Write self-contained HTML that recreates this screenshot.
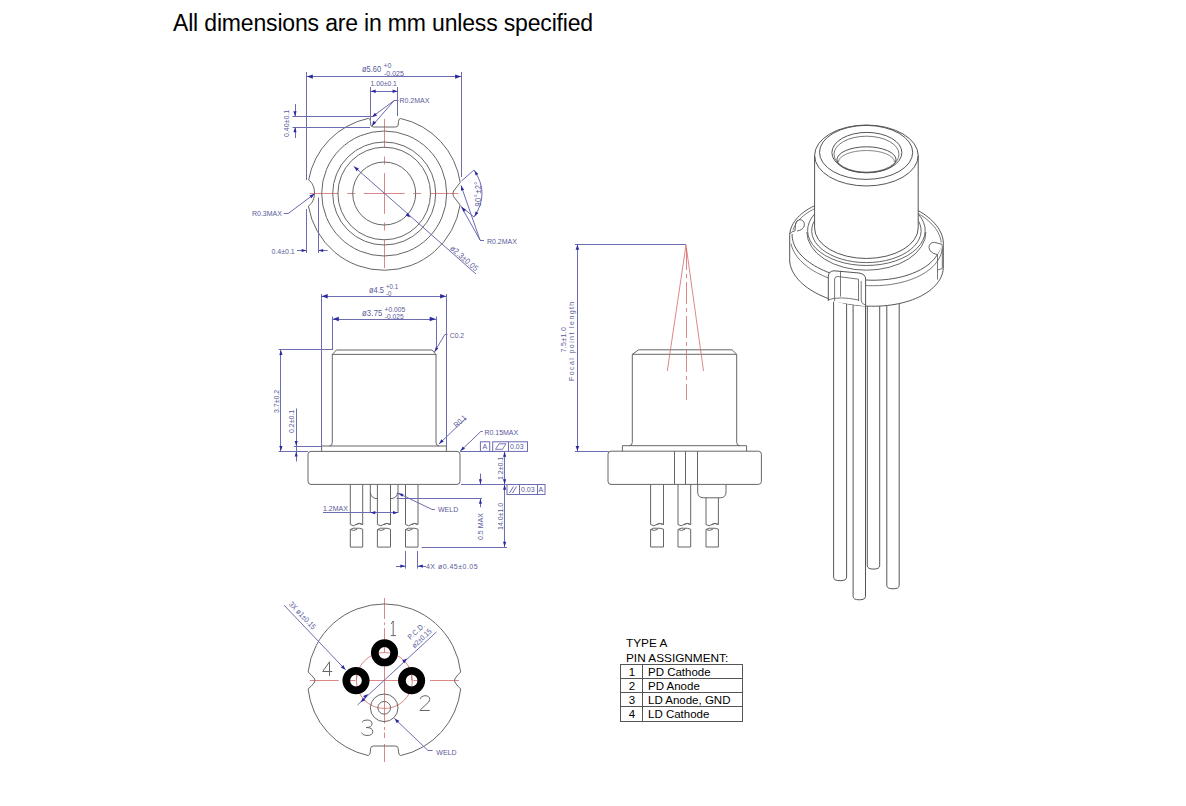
<!DOCTYPE html>
<html><head><meta charset="utf-8"><style>
html,body{margin:0;padding:0;background:#fff;}
body{width:1186px;height:806px;position:relative;overflow:hidden;font-family:"Liberation Sans",sans-serif;}
svg text{font-family:"Liberation Sans",sans-serif;}
#title{position:absolute;left:173px;top:10px;font-size:23px;letter-spacing:-0.17px;color:#000;white-space:nowrap;}
</style></head><body>
<div id="title">All dimensions are in mm unless specified</div>

<div style="position:absolute;left:626px;top:636px;font-size:11.8px;line-height:14.5px;color:#000">TYPE A<br>PIN ASSIGNMENT:</div>

<svg width="1186" height="806" viewBox="0 0 1186 806" style="position:absolute;left:0;top:0">
<line x1="363.8" y1="193.5" x2="404.59999999999997" y2="193.5" stroke="#d46a6a" stroke-width="0.8" />
<line x1="413.2" y1="193.5" x2="421.2" y2="193.5" stroke="#d46a6a" stroke-width="0.8" />
<line x1="347.2" y1="193.5" x2="355.2" y2="193.5" stroke="#d46a6a" stroke-width="0.8" />
<line x1="429.79999999999995" y1="193.5" x2="458.4" y2="193.5" stroke="#d46a6a" stroke-width="0.8" />
<line x1="309.6" y1="193.5" x2="338.6" y2="193.5" stroke="#d46a6a" stroke-width="0.8" />
<line x1="384.5" y1="173.1" x2="384.5" y2="213.9" stroke="#d46a6a" stroke-width="0.8" />
<line x1="384.5" y1="222.5" x2="384.5" y2="230.5" stroke="#d46a6a" stroke-width="0.8" />
<line x1="384.5" y1="156.5" x2="384.5" y2="164.5" stroke="#d46a6a" stroke-width="0.8" />
<line x1="384.5" y1="239.1" x2="384.5" y2="268.1" stroke="#d46a6a" stroke-width="0.8" />
<line x1="384.5" y1="118.9" x2="384.5" y2="147.9" stroke="#d46a6a" stroke-width="0.8" />
<circle cx="384.2" cy="193.5" r="31.5" stroke="#666" stroke-width="1" fill="none" />
<circle cx="384.2" cy="193.5" r="46.3" stroke="#666" stroke-width="1" fill="none" />
<circle cx="384.2" cy="193.5" r="51.5" stroke="#666" stroke-width="1" fill="none" />
<circle cx="384.2" cy="193.5" r="62.5" stroke="#666" stroke-width="1" fill="none" />
<path d="M400.7,118.5 A76.8,76.8 0 0 1 460.2,182.5 L453.6,191 Q452,193.7 453.6,196.5 L460.1,205.0 A76.8,76.8 0 0 1 308.4,206.0 C316.5,201 316.5,185 308.6,180.0 A76.8,76.8 0 0 1 368.3,118.4 Q370.4,118.4 370.5,121.5 L370.8,125 Q371,127 373.5,127 L395.5,127 Q398,127 398.2,125 L398.5,121.5 Q398.6,118.4 400.7,118.5 Z" stroke="#666" stroke-width="1" fill="none" />
<line x1="306.5" y1="72" x2="306.5" y2="180" stroke="#6c6cb0" stroke-width="1" />
<line x1="461.5" y1="72" x2="461.5" y2="177" stroke="#6c6cb0" stroke-width="1" />
<line x1="306.5" y1="76.5" x2="461.4" y2="76.5" stroke="#6c6cb0" stroke-width="1" />
<path d="M306.8,76.6 L312.8,74.4 L312.8,78.8 Z" fill="#2a2aa0" stroke="none"/>
<path d="M461.1,76.6 L455.1,78.8 L455.1,74.4 Z" fill="#2a2aa0" stroke="none"/>
<text x="0" y="0" font-size="8.57" fill="#5a5a9a" text-anchor="start" transform="translate(362 71.5) scale(0.875 1)" >ø5.60</text>
<text x="0" y="0" font-size="8.00" fill="#5a5a9a" text-anchor="start" transform="translate(383.5 68) scale(0.875 1)" >+0</text>
<text x="0" y="0" font-size="8.00" fill="#5a5a9a" text-anchor="start" transform="translate(384 75.5) scale(0.875 1)" >-0.025</text>
<line x1="370.5" y1="87" x2="370.5" y2="120" stroke="#6c6cb0" stroke-width="1" />
<line x1="397.5" y1="87" x2="397.5" y2="116" stroke="#6c6cb0" stroke-width="1" />
<line x1="370.4" y1="91.5" x2="397.9" y2="91.5" stroke="#6c6cb0" stroke-width="1" />
<path d="M370.7,91.2 L375.7,89.4 L375.7,93.0 Z" fill="#2a2aa0" stroke="none"/>
<path d="M397.6,91.2 L392.6,93.0 L392.6,89.4 Z" fill="#2a2aa0" stroke="none"/>
<text x="0" y="0" font-size="7.77" fill="#5a5a9a" text-anchor="start" transform="translate(370.5 86) scale(0.875 1)" >1.00±0.1</text>
<line x1="394.2" y1="100.5" x2="398.5" y2="100.5" stroke="#6c6cb0" stroke-width="1" />
<line x1="394.2" y1="100.5" x2="372" y2="117" stroke="#6c6cb0" stroke-width="1" />
<line x1="394.2" y1="100.5" x2="372" y2="126" stroke="#6c6cb0" stroke-width="1" />
<path d="M372.0,117.2 L374.9,112.8 L377.1,115.6 Z" fill="#2a2aa0" stroke="none"/>
<path d="M372.0,126.0 L373.2,120.8 L376.2,122.8 Z" fill="#2a2aa0" stroke="none"/>
<text x="0" y="0" font-size="8.00" fill="#5a5a9a" text-anchor="start" transform="translate(399.5 103) scale(0.875 1)" >R0.2MAX</text>
<line x1="292.5" y1="116.5" x2="372" y2="116.5" stroke="#6c6cb0" stroke-width="1" />
<line x1="292.5" y1="127.5" x2="370" y2="127.5" stroke="#6c6cb0" stroke-width="1" />
<line x1="295.5" y1="104" x2="295.5" y2="116.5" stroke="#6c6cb0" stroke-width="1" />
<path d="M295.0,116.3 L293.4,111.3 L296.6,111.3 Z" fill="#2a2aa0" stroke="none"/>
<line x1="295.5" y1="127.1" x2="295.5" y2="138" stroke="#6c6cb0" stroke-width="1" />
<path d="M295.0,127.3 L296.6,132.3 L293.4,132.3 Z" fill="#2a2aa0" stroke="none"/>
<text x="0" y="0" font-size="8.00" fill="#5a5a9a" text-anchor="start" transform="translate(288.5 137) rotate(-90) scale(0.875 1)" >0.40±0.1</text>
<line x1="461.5" y1="181" x2="474" y2="170" stroke="#6c6cb0" stroke-width="1" />
<line x1="460.5" y1="206" x2="474" y2="217" stroke="#6c6cb0" stroke-width="1" />
<path d="M474,170 Q490,193.5 474,217" stroke="#6c6cb0" stroke-width="1" fill="none" />
<path d="M474.5,170.5 L478.4,174.0 L475.6,175.6 Z" fill="#2a2aa0" stroke="none"/>
<path d="M474.5,216.5 L475.6,211.4 L478.4,213.0 Z" fill="#2a2aa0" stroke="none"/>
<text x="0" y="0" font-size="8.57" fill="#5a5a9a" text-anchor="start" transform="translate(481 206.5) rotate(-90) scale(0.875 1)" letter-spacing="0.5">90°±2°</text>
<line x1="480" y1="240" x2="461" y2="185.5" stroke="#6c6cb0" stroke-width="1" />
<line x1="480" y1="240" x2="461.5" y2="207" stroke="#6c6cb0" stroke-width="1" />
<line x1="480" y1="240.5" x2="484" y2="240.5" stroke="#6c6cb0" stroke-width="1" />
<path d="M461.0,185.5 L464.1,189.7 L461.1,190.7 Z" fill="#2a2aa0" stroke="none"/>
<path d="M461.5,207.0 L465.9,209.8 L463.5,211.9 Z" fill="#2a2aa0" stroke="none"/>
<text x="0" y="0" font-size="8.00" fill="#5a5a9a" text-anchor="start" transform="translate(487 243.5) scale(0.875 1)" >R0.2MAX</text>
<line x1="283.7" y1="213.5" x2="288" y2="213.5" stroke="#6c6cb0" stroke-width="1" />
<line x1="288" y1="213.7" x2="314.5" y2="193.8" stroke="#6c6cb0" stroke-width="1" />
<path d="M314.5,193.8 L311.6,198.2 L309.4,195.4 Z" fill="#2a2aa0" stroke="none"/>
<text x="0" y="0" font-size="8.00" fill="#5a5a9a" text-anchor="start" transform="translate(252 216) scale(0.875 1)" >R0.3MAX</text>
<line x1="306.5" y1="209" x2="306.5" y2="253" stroke="#6c6cb0" stroke-width="1" />
<line x1="318.5" y1="197.5" x2="318.5" y2="253" stroke="#6c6cb0" stroke-width="1" />
<line x1="297" y1="250.5" x2="306.8" y2="250.5" stroke="#6c6cb0" stroke-width="1" />
<path d="M306.6,250.5 L301.6,252.1 L301.6,248.9 Z" fill="#2a2aa0" stroke="none"/>
<line x1="318" y1="250.5" x2="327.5" y2="250.5" stroke="#6c6cb0" stroke-width="1" />
<path d="M318.2,250.5 L323.2,248.9 L323.2,252.1 Z" fill="#2a2aa0" stroke="none"/>
<text x="0" y="0" font-size="8.00" fill="#5a5a9a" text-anchor="start" transform="translate(271.5 253.5) scale(0.875 1)" >0.4±0.1</text>
<line x1="353.7" y1="166.2" x2="476" y2="274" stroke="#6c6cb0" stroke-width="1" />
<path d="M354.0,166.5 L358.9,168.5 L356.6,171.2 Z" fill="#2a2aa0" stroke="none"/>
<path d="M410.4,217.4 L405.5,215.4 L407.8,212.7 Z" fill="#2a2aa0" stroke="none"/>
<text x="0" y="0" font-size="8.23" fill="#5a5a9a" text-anchor="start" transform="translate(449.5 249.0) rotate(41.4) scale(0.875 1)" letter-spacing="0.3">ø2.3±0.05</text>
<path d="M336.5,350 L432,350 L436,354.4 L436,442.5 Q436,445.7 439,446 M332.3,354.4 L336.5,350 M332.3,354.4 L436,354.4 M332.3,354.4 L332.3,442.5 Q332.3,445.7 329.5,446" stroke="#666" stroke-width="1" fill="none" />
<path d="M321.6,446 L446.4,446 L446.4,451.4 M321.6,446 L321.6,451.4" stroke="#666" stroke-width="1" fill="none" />
<path d="M311,451.4 L457,451.4 Q460,451.4 460,454.4 L460,481.4 Q460,484.4 457,484.4 L311,484.4 Q308,484.4 308,481.4 L308,454.4 Q308,451.4 311,451.4 Z" stroke="#666" stroke-width="1" fill="none" />
<path d="M350.3,484.4 L350.3,524.5 L353.4,525.8 Q356.5,524.0 359.476,523.4 L362.7,524.5 L362.7,484.4 M355.88,524.7 Q358.98,522.3 362.7,524.5 M350.3,547.1 L350.3,529.5 L353.4,528.2 L359.476,528.3 L362.7,529.2 L362.7,547.1 Z M350.3,529.5 Q354.02,531.5 357.12,529.3" stroke="#666" stroke-width="1" fill="none" />
<path d="M377.4,484.4 L377.4,524.5 L380.67499999999995,525.8 Q383.95,524.0 387.094,523.4 L390.5,524.5 L390.5,484.4 M383.29499999999996,524.7 Q386.57,522.3 390.5,524.5 M377.4,547.1 L377.4,529.5 L380.67499999999995,528.2 L387.094,528.3 L390.5,529.2 L390.5,547.1 Z M377.4,529.5 Q381.33,531.5 384.605,529.3" stroke="#666" stroke-width="1" fill="none" />
<path d="M405.5,484.4 L405.5,524.5 L408.625,525.8 Q411.75,524.0 414.75,523.4 L418,524.5 L418,484.4 M411.125,524.7 Q414.25,522.3 418,524.5 M405.5,547.1 L405.5,529.5 L408.625,528.2 L414.75,528.3 L418,529.2 L418,547.1 Z M405.5,529.5 Q409.25,531.5 412.375,529.3" stroke="#666" stroke-width="1" fill="none" />
<path d="M370.3,484.4 L370.3,513 M398,484.4 L398,513 M370.3,492.5 Q371,498.5 377.4,498.7 M390.5,498.7 Q397,498.5 397.6,492.5" stroke="#666" stroke-width="1" fill="none" />
<line x1="321.5" y1="294" x2="321.5" y2="446" stroke="#6c6cb0" stroke-width="1" />
<line x1="446.5" y1="294" x2="446.5" y2="446" stroke="#6c6cb0" stroke-width="1" />
<line x1="321.4" y1="296.5" x2="446.4" y2="296.5" stroke="#6c6cb0" stroke-width="1" />
<path d="M321.7,296.3 L327.7,294.1 L327.7,298.5 Z" fill="#2a2aa0" stroke="none"/>
<path d="M446.1,296.3 L440.1,298.5 L440.1,294.1 Z" fill="#2a2aa0" stroke="none"/>
<text x="0" y="0" font-size="8.57" fill="#5a5a9a" text-anchor="start" transform="translate(369 293) scale(0.875 1)" >ø4.5</text>
<text x="0" y="0" font-size="7.09" fill="#5a5a9a" text-anchor="start" transform="translate(386 289) scale(0.875 1)" >+0.1</text>
<text x="0" y="0" font-size="7.09" fill="#5a5a9a" text-anchor="start" transform="translate(386 295.5) scale(0.875 1)" >-0</text>
<line x1="332.5" y1="316.5" x2="332.5" y2="350" stroke="#6c6cb0" stroke-width="1" />
<line x1="436.5" y1="316.5" x2="436.5" y2="350" stroke="#6c6cb0" stroke-width="1" />
<line x1="332.5" y1="319.5" x2="436" y2="319.5" stroke="#6c6cb0" stroke-width="1" />
<path d="M332.8,319.0 L338.8,316.8 L338.8,321.2 Z" fill="#2a2aa0" stroke="none"/>
<path d="M435.7,319.0 L429.7,321.2 L429.7,316.8 Z" fill="#2a2aa0" stroke="none"/>
<text x="0" y="0" font-size="8.80" fill="#5a5a9a" text-anchor="start" transform="translate(362 316) scale(0.875 1)" letter-spacing="0.2">ø3.75</text>
<text x="0" y="0" font-size="7.66" fill="#5a5a9a" text-anchor="start" transform="translate(384.5 312) scale(0.875 1)" >+0.005</text>
<text x="0" y="0" font-size="7.66" fill="#5a5a9a" text-anchor="start" transform="translate(384.8 319) scale(0.875 1)" >-0.025</text>
<line x1="434.5" y1="352" x2="444.6" y2="334.9" stroke="#6c6cb0" stroke-width="1" />
<line x1="444.6" y1="334.5" x2="447.5" y2="334.5" stroke="#6c6cb0" stroke-width="1" />
<path d="M434.5,352.0 L435.8,346.9 L438.3,348.5 Z" fill="#2a2aa0" stroke="none"/>
<text x="0" y="0" font-size="7.77" fill="#5a5a9a" text-anchor="start" transform="translate(449.8 337.6) scale(0.875 1)" >C0.2</text>
<line x1="278.5" y1="349.5" x2="332" y2="349.5" stroke="#6c6cb0" stroke-width="1" />
<line x1="278.5" y1="451.5" x2="308" y2="451.5" stroke="#6c6cb0" stroke-width="1" />
<line x1="280.5" y1="349.8" x2="280.5" y2="451.4" stroke="#6c6cb0" stroke-width="1" />
<path d="M280.9,350.1 L282.5,355.1 L279.3,355.1 Z" fill="#2a2aa0" stroke="none"/>
<path d="M280.9,451.1 L279.3,446.1 L282.5,446.1 Z" fill="#2a2aa0" stroke="none"/>
<text x="0" y="0" font-size="8.00" fill="#5a5a9a" text-anchor="start" transform="translate(278.5 413) rotate(-90) scale(0.875 1)" >3.7±0.2</text>
<line x1="293.8" y1="446.5" x2="321.4" y2="446.5" stroke="#6c6cb0" stroke-width="1" />
<line x1="296.5" y1="408.5" x2="296.5" y2="461.5" stroke="#6c6cb0" stroke-width="1" />
<path d="M296.2,446.0 L294.7,441.0 L297.7,441.0 Z" fill="#2a2aa0" stroke="none"/>
<path d="M296.2,451.6 L297.7,456.6 L294.7,456.6 Z" fill="#2a2aa0" stroke="none"/>
<text x="0" y="0" font-size="8.00" fill="#5a5a9a" text-anchor="start" transform="translate(294.3 433) rotate(-90) scale(0.875 1)" >0.2±0.1</text>
<line x1="439" y1="444" x2="466" y2="418" stroke="#6c6cb0" stroke-width="1" />
<path d="M439.0,444.0 L441.4,439.3 L443.7,441.6 Z" fill="#2a2aa0" stroke="none"/>
<text x="0" y="0" font-size="7.77" fill="#5a5a9a" text-anchor="start" transform="translate(456.5 428) rotate(-42) scale(0.875 1)" >R0.1</text>
<line x1="460" y1="451.4" x2="480.8" y2="431.5" stroke="#6c6cb0" stroke-width="1" />
<line x1="480.8" y1="431.5" x2="482.8" y2="431.5" stroke="#6c6cb0" stroke-width="1" />
<path d="M460.3,451.1 L462.8,446.5 L465.0,448.8 Z" fill="#2a2aa0" stroke="none"/>
<text x="0" y="0" font-size="8.00" fill="#5a5a9a" text-anchor="start" transform="translate(484.4 434.5) scale(0.875 1)" >R0.15MAX</text>
<rect x="480.4" y="441.8" width="9.3" height="9.6" fill="none" stroke="#6c6cb0" stroke-width="1"/>
<text x="0" y="0" font-size="8.00" fill="#5a5a9a" text-anchor="start" transform="translate(482.5 449.3) scale(0.875 1)" >A</text>
<rect x="492.7" y="441.8" width="34.8" height="9.6" fill="none" stroke="#6c6cb0" stroke-width="1"/>
<line x1="508.5" y1="441.8" x2="508.5" y2="451.4" stroke="#6c6cb0" stroke-width="1" />
<path d="M495.5,449.3 L499,443.8 L506,443.8 L502.5,449.3 Z" stroke="#6c6cb0" stroke-width="0.9" fill="none" />
<text x="0" y="0" font-size="8.00" fill="#5a5a9a" text-anchor="start" transform="translate(510 449.3) scale(0.875 1)" >0.03</text>
<line x1="460" y1="451.5" x2="503.6" y2="451.5" stroke="#6c6cb0" stroke-width="1" />
<line x1="504.5" y1="451.6" x2="504.5" y2="484.4" stroke="#6c6cb0" stroke-width="1" />
<path d="M504.6,451.8 L506.2,456.8 L503.0,456.8 Z" fill="#2a2aa0" stroke="none"/>
<path d="M504.6,484.2 L503.0,479.2 L506.2,479.2 Z" fill="#2a2aa0" stroke="none"/>
<text x="0" y="0" font-size="8.00" fill="#5a5a9a" text-anchor="start" transform="translate(502.5 480) rotate(-90) scale(0.875 1)" >1.2±0.1</text>
<line x1="461" y1="484.5" x2="507.6" y2="484.5" stroke="#6c6cb0" stroke-width="1" />
<rect x="507" y="484.5" width="38" height="10" fill="none" stroke="#6c6cb0" stroke-width="1"/>
<line x1="519.5" y1="484.5" x2="519.5" y2="494.5" stroke="#6c6cb0" stroke-width="1" />
<line x1="537.5" y1="484.5" x2="537.5" y2="494.5" stroke="#6c6cb0" stroke-width="1" />
<line x1="509.5" y1="493" x2="513.5" y2="486.5" stroke="#6c6cb0" stroke-width="1" />
<line x1="512.5" y1="493" x2="516.5" y2="486.5" stroke="#6c6cb0" stroke-width="1" />
<text x="0" y="0" font-size="8.00" fill="#5a5a9a" text-anchor="start" transform="translate(521 492.3) scale(0.875 1)" >0.03</text>
<text x="0" y="0" font-size="8.00" fill="#5a5a9a" text-anchor="start" transform="translate(538.6 492.3) scale(0.875 1)" >A</text>
<line x1="504.5" y1="484.6" x2="504.5" y2="547" stroke="#6c6cb0" stroke-width="1" />
<path d="M504.6,484.8 L506.2,489.8 L503.0,489.8 Z" fill="#2a2aa0" stroke="none"/>
<path d="M504.6,546.8 L503.0,541.8 L506.2,541.8 Z" fill="#2a2aa0" stroke="none"/>
<text x="0" y="0" font-size="8.00" fill="#5a5a9a" text-anchor="start" transform="translate(502.5 530) rotate(-90) scale(0.875 1)" >14.0±1.0</text>
<line x1="421.7" y1="547.5" x2="507" y2="547.5" stroke="#6c6cb0" stroke-width="1" />
<line x1="480.5" y1="473.6" x2="480.5" y2="484.4" stroke="#6c6cb0" stroke-width="1" />
<path d="M480.4,484.2 L478.9,479.2 L481.9,479.2 Z" fill="#2a2aa0" stroke="none"/>
<line x1="396.7" y1="498.5" x2="482" y2="498.5" stroke="#6c6cb0" stroke-width="1" />
<line x1="480.5" y1="498.6" x2="480.5" y2="507.3" stroke="#6c6cb0" stroke-width="1" />
<path d="M480.4,498.8 L481.9,503.8 L478.9,503.8 Z" fill="#2a2aa0" stroke="none"/>
<text x="0" y="0" font-size="8.00" fill="#5a5a9a" text-anchor="start" transform="translate(482.8 540) rotate(-90) scale(0.875 1)" >0.5 MAX</text>
<line x1="323" y1="512.5" x2="398" y2="512.5" stroke="#6c6cb0" stroke-width="1" />
<path d="M370.3,512.7 L375.3,511.1 L375.3,514.3 Z" fill="#2a2aa0" stroke="none"/>
<path d="M398.0,512.7 L393.0,514.3 L393.0,511.1 Z" fill="#2a2aa0" stroke="none"/>
<text x="0" y="0" font-size="8.00" fill="#5a5a9a" text-anchor="start" transform="translate(323 511) scale(0.875 1)" >1.2MAX</text>
<line x1="398" y1="493.1" x2="431.7" y2="509.3" stroke="#6c6cb0" stroke-width="1" />
<line x1="431.7" y1="509.5" x2="434.8" y2="509.5" stroke="#6c6cb0" stroke-width="1" />
<path d="M398.3,493.2 L403.5,494.0 L402.1,496.8 Z" fill="#2a2aa0" stroke="none"/>
<text x="0" y="0" font-size="8.00" fill="#5a5a9a" text-anchor="start" transform="translate(438 512) scale(0.875 1)" >WELD</text>
<line x1="405.5" y1="551" x2="405.5" y2="568.6" stroke="#6c6cb0" stroke-width="1" />
<line x1="417.5" y1="551" x2="417.5" y2="568.6" stroke="#6c6cb0" stroke-width="1" />
<line x1="396" y1="566.5" x2="405.5" y2="566.5" stroke="#6c6cb0" stroke-width="1" />
<path d="M405.3,566.1 L400.3,567.7 L400.3,564.5 Z" fill="#2a2aa0" stroke="none"/>
<line x1="417.6" y1="566.5" x2="426" y2="566.5" stroke="#6c6cb0" stroke-width="1" />
<path d="M417.8,566.1 L422.8,564.5 L422.8,567.7 Z" fill="#2a2aa0" stroke="none"/>
<text x="0" y="0" font-size="8.00" fill="#5a5a9a" text-anchor="start" transform="translate(426 568.7) scale(0.875 1)" letter-spacing="0.55">4X  ø0.45±0.05</text>
<line x1="364.0" y1="680.5" x2="404.79999999999995" y2="680.5" stroke="#d46a6a" stroke-width="0.8" />
<line x1="413.4" y1="680.5" x2="421.4" y2="680.5" stroke="#d46a6a" stroke-width="0.8" />
<line x1="347.4" y1="680.5" x2="355.4" y2="680.5" stroke="#d46a6a" stroke-width="0.8" />
<line x1="430.0" y1="680.5" x2="459.0" y2="680.5" stroke="#d46a6a" stroke-width="0.8" />
<line x1="309.79999999999995" y1="680.5" x2="338.79999999999995" y2="680.5" stroke="#d46a6a" stroke-width="0.8" />
<line x1="384.5" y1="598" x2="384.5" y2="619" stroke="#d46a6a" stroke-width="0.8" />
<line x1="384.5" y1="622.5" x2="384.5" y2="625" stroke="#d46a6a" stroke-width="0.8" />
<line x1="384.5" y1="628" x2="384.5" y2="640" stroke="#d46a6a" stroke-width="0.8" />
<line x1="384.5" y1="666" x2="384.5" y2="723.6" stroke="#d46a6a" stroke-width="0.8" />
<line x1="384.5" y1="727" x2="384.5" y2="730" stroke="#d46a6a" stroke-width="0.8" />
<line x1="384.5" y1="732.5" x2="384.5" y2="738" stroke="#d46a6a" stroke-width="0.8" />
<line x1="384.5" y1="744" x2="384.5" y2="762" stroke="#d46a6a" stroke-width="0.8" />
<circle cx="384.4" cy="680.5" r="28" stroke="#d46a6a" stroke-width="0.8" fill="none" />
<path d="M460.7,672.0 A76.8,76.8 0 0 0 308.1,672.0 Q315,678 315,680.5 Q315,683 308.1,689.0 A76.8,76.8 0 0 0 368.3,755.6 Q370.2,755 370.3,752 L370.6,748.5 Q370.8,746 373.5,746 L395.5,746 Q398,746 398.2,748.5 L398.5,752 Q398.6,755 400.6,755.6 A76.8,76.8 0 0 0 460.7,689.0 Q454.5,683 454.5,680.5 Q454.5,678 460.7,672.0 Z" stroke="#666" stroke-width="1" fill="none" />
<circle cx="384.5" cy="652.8" r="9.7" stroke="#000" stroke-width="7.7" fill="none" />
<line x1="384.5" y1="646.8" x2="384.5" y2="652.8" stroke="#d46a6a" stroke-width="0.8" />
<circle cx="356" cy="680.6" r="9.7" stroke="#000" stroke-width="7.7" fill="none" />
<line x1="356.5" y1="674.6" x2="356.5" y2="680.6" stroke="#d46a6a" stroke-width="0.8" />
<circle cx="411.6" cy="680.6" r="9.7" stroke="#000" stroke-width="7.7" fill="none" />
<line x1="411.5" y1="674.6" x2="411.5" y2="680.6" stroke="#d46a6a" stroke-width="0.8" />
<circle cx="384.2" cy="707.8" r="13.8" stroke="#666" stroke-width="1" fill="none" />
<circle cx="384.2" cy="707.8" r="6.35" stroke="#666" stroke-width="1" fill="none" />
<path d="M391.2,623.9 L393.2,621 L393.2,635.6 M390.8,635.6 L396,635.6" stroke="#666" stroke-width="1" fill="none" />
<path d="M332.3,671.5 L322.7,671.5 L329.5,661.8 L329.5,675.9" stroke="#666" stroke-width="1" fill="none" />
<path d="M420,699 Q421,695.7 425,695.7 Q429.7,695.7 429.7,699.5 Q429.7,702 426,704.5 L419.8,710.5 L429.7,710.5" stroke="#666" stroke-width="1" fill="none" />
<path d="M361.8,722.5 Q363,720 367,720 Q372,720 372,723.8 Q372,727.5 366,727.5 Q372.8,727.5 372.8,731.5 Q372.8,735.5 367,735.5 Q362.5,735.5 361.4,732.5" stroke="#666" stroke-width="1" fill="none" />
<line x1="284.1" y1="605.2" x2="345.5" y2="669.8" stroke="#6c6cb0" stroke-width="1" />
<path d="M345.5,669.8 L340.8,667.4 L343.4,664.9 Z" fill="#2a2aa0" stroke="none"/>
<text x="0" y="0" font-size="7.77" fill="#5a5a9a" text-anchor="start" transform="translate(288.5 604.5) rotate(46.5) scale(0.875 1)" >3X  ø1±0.15</text>
<line x1="436.6" y1="631.8" x2="357.5" y2="705" stroke="#6c6cb0" stroke-width="1" />
<path d="M407.0,658.5 L404.5,663.2 L402.1,660.6 Z" fill="#2a2aa0" stroke="none"/>
<path d="M360.5,702.3 L363.0,697.6 L365.4,700.2 Z" fill="#2a2aa0" stroke="none"/>
<path d="M368.0,694.0 L365.5,698.7 L363.1,696.1 Z" fill="#2a2aa0" stroke="none"/>
<text x="0" y="0" font-size="7.54" fill="#5a5a9a" text-anchor="start" transform="translate(410.5 640) rotate(-42.7) scale(0.875 1)" letter-spacing="0.4">P.C.D.</text>
<text x="0" y="0" font-size="7.54" fill="#5a5a9a" text-anchor="start" transform="translate(414.5 648.5) rotate(-42.7) scale(0.875 1)" >ø2±0.15</text>
<line x1="394.3" y1="718.3" x2="428" y2="750.5" stroke="#6c6cb0" stroke-width="1" />
<line x1="428" y1="750.5" x2="432.6" y2="750.5" stroke="#6c6cb0" stroke-width="1" />
<path d="M394.5,718.5 L399.3,720.7 L396.8,723.3 Z" fill="#2a2aa0" stroke="none"/>
<text x="0" y="0" font-size="8.00" fill="#5a5a9a" text-anchor="start" transform="translate(436.3 755) scale(0.875 1)" >WELD</text>
<path d="M638.6,349.8 L732,349.8 L736.7,354.3 L736.7,442.5 Q736.7,445.7 740,445.7 M632.3,354.3 L638.6,349.8 M632.3,354.3 L736.7,354.3 M632.3,354.3 L632.3,442.5 Q632.3,445.7 629,445.7" stroke="#666" stroke-width="1" fill="none" />
<path d="M622.4,445.7 L746.6,445.7 L746.6,451.2 M622.4,445.7 L622.4,451.2" stroke="#666" stroke-width="1" fill="none" />
<path d="M611,451.2 L758.4,451.2 Q761.4,451.2 761.4,454.2 L761.4,481.4 Q761.4,484.4 758.4,484.4 L611,484.4 Q608,484.4 608,481.4 L608,454.2 Q608,451.2 611,451.2 Z" stroke="#666" stroke-width="1" fill="none" />
<line x1="674.5" y1="451.2" x2="674.5" y2="484.4" stroke="#666" stroke-width="1" />
<line x1="685.5" y1="451.2" x2="685.5" y2="484.4" stroke="#666" stroke-width="1" />
<line x1="697.5" y1="451.2" x2="697.5" y2="484.4" stroke="#666" stroke-width="1" />
<path d="M650.6,484.4 L650.6,524.5 L653.825,525.8 Q657.05,524.0 660.146,523.4 L663.5,524.5 L663.5,484.4 M656.405,524.7 Q659.63,522.3 663.5,524.5 M650.6,547 L650.6,529.5 L653.825,528.2 L660.146,528.3 L663.5,529.2 L663.5,547 Z M650.6,529.5 Q654.47,531.5 657.695,529.3" stroke="#666" stroke-width="1" fill="none" />
<path d="M678,484.4 L678,524.5 L681.175,525.8 Q684.35,524.0 687.398,523.4 L690.7,524.5 L690.7,484.4 M683.715,524.7 Q686.89,522.3 690.7,524.5 M678,547 L678,529.5 L681.175,528.2 L687.398,528.3 L690.7,529.2 L690.7,547 Z M678,529.5 Q681.8100000000001,531.5 684.985,529.3" stroke="#666" stroke-width="1" fill="none" />
<path d="M706,497.8 L706,524.5 L709.1,525.8 Q712.2,524.0 715.1759999999999,523.4 L718.4,524.5 L718.4,497.8 M711.58,524.7 Q714.68,522.3 718.4,524.5 M706,547 L706,529.5 L709.1,528.2 L715.1759999999999,528.3 L718.4,529.2 L718.4,547 Z M706,529.5 Q709.72,531.5 712.8199999999999,529.3" stroke="#666" stroke-width="1" fill="none" />
<path d="M697.7,484.4 L697.7,492 Q697.7,497.8 703.5,497.8 L720.2,497.8 Q726,497.8 726,492 L726,484.4" stroke="#666" stroke-width="1" fill="none" />
<line x1="686" y1="245" x2="667.3" y2="371" stroke="#d46a6a" stroke-width="0.8" />
<line x1="686" y1="245" x2="703.5" y2="371" stroke="#d46a6a" stroke-width="0.8" />
<line x1="686.5" y1="248" x2="686.5" y2="400" stroke="#d46a6a" stroke-width="0.8" stroke-dasharray="22,4,4,4"/>
<line x1="575" y1="244.5" x2="686" y2="244.5" stroke="#6c6cb0" stroke-width="1" />
<line x1="575" y1="451.5" x2="608.6" y2="451.5" stroke="#6c6cb0" stroke-width="1" />
<line x1="577.5" y1="244.5" x2="577.5" y2="451.2" stroke="#6c6cb0" stroke-width="1" />
<path d="M577.4,244.8 L579.2,249.8 L575.6,249.8 Z" fill="#2a2aa0" stroke="none"/>
<path d="M577.4,450.9 L575.6,445.9 L579.2,445.9 Z" fill="#2a2aa0" stroke="none"/>
<text x="0" y="0" font-size="8.00" fill="#5a5a9a" text-anchor="start" transform="translate(566 352.5) rotate(-90) scale(0.875 1)" letter-spacing="0.4">7.5±1.0</text>
<text x="0" y="0" font-size="8.00" fill="#5a5a9a" text-anchor="start" transform="translate(574 381) rotate(-90) scale(0.875 1)" letter-spacing="1.62">Focal point length</text>
<path d="M886.8,300 L886.8,585.3 Q886.8,588.8 893.0,588.8 Q899.2,588.8 899.2,585.3 L899.2,300" stroke="#555" stroke-width="1.0" fill="#fff" />
<path d="M867.3,300 L867.3,565.6 Q867.3,569.1 873.5,569.1 Q879.7,569.1 879.7,565.6 L879.7,300" stroke="#555" stroke-width="1.0" fill="#fff" />
<path d="M853.1,295 L853.1,596.3 Q853.1,599.8 859.3,599.8 Q865.5,599.8 865.5,596.3 L865.5,295" stroke="#555" stroke-width="1.0" fill="#fff" />
<path d="M833.6,295 L833.6,577.2 Q833.6,580.7 840.1,580.7 Q846.6,580.7 846.6,577.2 L846.6,295" stroke="#555" stroke-width="1.0" fill="#fff" />
<path d="M789.69,234.63 L789.95,232.39 L790.42,230.17 L791.10,227.98 L791.99,225.83 L793.08,223.71 L794.37,221.64 L795.86,219.61 L797.55,217.65 L799.42,215.74 L801.48,213.90 L803.71,212.13 L806.12,210.44 L808.69,208.83 L811.42,207.31 L814.31,205.87 L817.33,204.53 L820.49,203.28 L823.78,202.14 L827.18,201.10 L830.69,200.17 L834.30,199.34 L838.00,198.63 L841.77,198.03 L845.62,197.54 L849.52,197.18 L853.46,196.93 L857.45,196.79 L861.45,196.78 L865.48,196.88 L869.50,197.10 L873.52,197.44 L877.51,197.90 L881.48,198.47 L885.40,199.16 L889.28,199.96 L893.09,200.86 L896.83,201.88 L900.48,203.00 L904.04,204.22 L907.50,205.54 L910.85,206.95 L914.08,208.45 L917.17,210.04 L920.13,211.72 L922.94,213.47 L925.59,215.29 L928.08,217.18 L930.41,219.13 L932.55,221.14 L934.52,223.20 L936.30,225.31 L937.89,227.46 L939.29,229.64 L940.48,231.85 L941.47,234.09 L942.26,236.34 L942.84,238.59 L943.21,240.86 L943.36,243.12 L943.31,245.37 L943.31,268.37 L943.05,270.61 L942.58,272.83 L941.90,275.02 L941.01,277.17 L939.92,279.29 L938.63,281.36 L937.14,283.39 L935.45,285.35 L933.58,287.26 L931.52,289.10 L929.29,290.87 L926.88,292.56 L924.31,294.17 L921.58,295.69 L918.69,297.13 L915.67,298.47 L912.51,299.72 L909.22,300.86 L905.82,301.90 L902.31,302.83 L898.70,303.66 L895.00,304.37 L891.23,304.97 L887.38,305.46 L883.48,305.82 L879.54,306.07 L875.55,306.21 L871.55,306.22 L867.52,306.12 L863.50,305.90 L859.48,305.56 L855.49,305.10 L851.52,304.53 L847.60,303.84 L843.72,303.04 L839.91,302.14 L836.17,301.12 L832.52,300.00 L828.96,298.78 L825.50,297.46 L822.15,296.05 L818.92,294.55 L815.83,292.96 L812.87,291.28 L810.06,289.53 L807.41,287.71 L804.92,285.82 L802.59,283.87 L800.45,281.86 L798.48,279.80 L796.70,277.69 L795.11,275.54 L793.71,273.36 L792.52,271.15 L791.53,268.91 L790.74,266.66 L790.16,264.41 L789.79,262.14 L789.64,259.88 L789.69,257.63 Z" stroke="#555" stroke-width="1.0" fill="#fff" />
<path d="M940.58,245.76 L940.15,247.85 L939.52,249.92 L938.70,251.96 L937.69,253.96 L936.49,255.93 L935.12,257.84 L933.56,259.71 L931.82,261.52 L929.92,263.27 L927.85,264.96 L925.62,266.57 L923.23,268.12 L920.69,269.58 L918.02,270.96 L915.20,272.26 L912.26,273.47 L909.20,274.59 L906.03,275.62 L902.76,276.54 L899.39,277.37 L895.93,278.09 L892.39,278.72 L888.79,279.23 L885.13,279.64 L881.42,279.94 L877.68,280.14 L873.90,280.22 L870.10,280.19 L866.30,280.06 L862.49,279.82 L858.70,279.46 L854.92,279.01 L851.18,278.44 L847.47,277.77 L843.82,277.00 L840.22,276.12 L836.70,275.15 L833.25,274.08 L829.89,272.92 L826.62,271.67 L823.46,270.33 L820.42,268.91 L817.49,267.41 L814.69,265.83 L812.03,264.18 L809.51,262.46 L807.14,260.69 L804.92,258.85 L802.87,256.96 L800.98,255.02 L799.27,253.04 L797.73,251.02 L796.37,248.96 L795.19,246.88 L794.20,244.78 L793.41,242.66 L792.80,240.53 L792.38,238.40 L792.16,236.26 L792.14,234.13" stroke="#555" stroke-width="1.0" fill="none" />
<path d="M942.24,248.66 L941.92,250.77 L941.42,252.86 L940.74,254.92 L939.87,256.96 L938.82,258.96 L937.60,260.91 L936.20,262.83 L934.63,264.69 L932.89,266.50 L930.99,268.25 L928.94,269.94 L926.72,271.56 L924.37,273.11 L921.87,274.58 L919.23,275.97 L916.46,277.29 L913.58,278.51 L910.57,279.65 L907.46,280.70 L904.25,281.65 L900.94,282.51 L897.55,283.27 L894.09,283.93 L890.56,284.49 L886.96,284.95 L883.32,285.30 L879.64,285.54 L875.92,285.69 L872.18,285.72 L868.43,285.65 L864.67,285.47 L860.92,285.19 L857.18,284.80 L853.47,284.31 L849.78,283.72 L846.14,283.02 L842.54,282.23 L839.01,281.34 L835.54,280.35 L832.15,279.27 L828.84,278.10 L825.63,276.85 L822.51,275.51 L819.51,274.09 L816.62,272.59 L813.85,271.01 L811.21,269.37 L808.70,267.66 L806.34,265.89 L804.12,264.06 L802.06,262.18 L800.16,260.25 L798.42,258.28 L796.84,256.27 L795.44,254.22 L794.21,252.15 L793.16,250.05 L792.28,247.94 L791.59,245.81 L791.09,243.67" stroke="#555" stroke-width="0.8" fill="none" />
<path d="M792.96,230.07 L793.72,228.12 L794.66,226.21 L795.76,224.33 L797.02,222.49 L798.44,220.70 L800.03,218.95 L801.77,217.26 L803.65,215.62 L805.69,214.04 L807.86,212.53 L810.17,211.08 L812.61,209.71 L815.18,208.41 L817.87,207.18 L820.67,206.04 L823.57,204.97 L826.58,204.00 L829.68,203.10 L832.86,202.30 L836.12,201.59 L839.45,200.97 L842.85,200.45 L846.30,200.02 L849.79,199.69 L853.33,199.45 L856.90,199.32 L860.48,199.28 L864.09,199.34 L867.69,199.49 L871.30,199.75 L874.89,200.10 L878.47,200.54 L882.01,201.09 L885.53,201.72 L888.99,202.45 L892.41,203.27 L895.76,204.18 L899.05,205.17 L902.26,206.25 L905.38,207.41 L908.42,208.65 L911.36,209.97 L914.20,211.36 L916.92,212.82 L919.53,214.34 L922.02,215.93 L924.37,217.58 L926.59,219.28 L928.68,221.04 L930.61,222.84 L932.40,224.69 L934.04,226.57 L935.52,228.49 L936.83,230.44 L937.99,232.42 L938.98,234.42 L939.80,236.43 L940.45,238.46 L940.93,240.49 L941.24,242.52" stroke="#555" stroke-width="0.8" fill="none" />
<path d="M828.3,301 L828.3,276 Q829,271 834,270.8 L859,273 Q865.6,274 865.6,279 L865.6,306.3" stroke="#555" stroke-width="1.0" fill="#fff" />
<path d="M834.6,301 L834.6,279 Q835,276.3 838,276.5 L858.5,279.2 L858.5,301" stroke="#555" stroke-width="0.8" fill="none" />
<line x1="840.5" y1="270.8" x2="840.5" y2="296.6" stroke="#555" stroke-width="0.8" />
<path d="M861.2,281 L861.2,300 Q861.5,304.5 866,304.7" stroke="#555" stroke-width="0.8" fill="none" />
<path d="M828.3,299.7 Q840,296 858.5,300" stroke="#555" stroke-width="0.8" fill="none" />
<path d="M789.8,234 Q791,231.5 795,230.8 L795.5,224 Q796.5,219.5 801,219.8 Q805,221 804.2,226 Q803,230 797,231" stroke="#555" stroke-width="0.9" fill="#fff" />
<path d="M797.6,220.2 L795.6,224" stroke="#555" stroke-width="0.8" fill="none" />
<path d="M937.5,254.6 Q929.5,253 929,247.5 Q929,242.5 934.5,242.3 L942.3,244.5" stroke="#555" stroke-width="0.9" fill="#fff" />
<path d="M937.5,254.6 L937.5,279.5 M942.3,245 L942.3,268.5 L937.5,270" stroke="#555" stroke-width="0.8" fill="none" />
<path d="M814.6,220.45 A54.7,31.9 0 1 0 918.1999999999999,220.45" stroke="#555" stroke-width="0.9" fill="none" />
<path d="M814.6,213.94 A58.8,35.0 0 1 0 918.1999999999999,213.94" stroke="#555" stroke-width="0.9" fill="none" />
<path d="M806.9,232 A59.5,38.2 0 0 0 925.9,232" stroke="#555" stroke-width="0.9" fill="none" />
<path d="M814.6,155.5 L814.6,228 A51.8,30.5 0 0 0 918.2,228 L918.2,155.5 Z" stroke="none" stroke-width="0" fill="#fff" />
<path d="M814.6,155.5 L814.6,228 A51.8,30.5 0 0 0 918.2,228 L918.2,155.5" stroke="#555" stroke-width="1.0" fill="none" />
<path d="M814.6,155.5 A51.8,30.5 0 0 1 918.2,155.5" stroke="#555" stroke-width="1.0" fill="none" />
<path d="M814.6,155.5 A51.8,30.5 0 0 0 918.2,155.5" stroke="#555" stroke-width="1.0" fill="none" />
<ellipse cx="866.1" cy="152.4" rx="46.6" ry="27" fill="none" stroke="#555" stroke-width="1.0"/>
<ellipse cx="866.9" cy="152.6" rx="35" ry="20.2" fill="none" stroke="#555" stroke-width="1.0"/>
<ellipse cx="866.5" cy="154.2" rx="32.5" ry="18" fill="none" stroke="#555" stroke-width="0.8"/>
<ellipse cx="866.5" cy="159.7" rx="29.5" ry="12.9" fill="none" stroke="#555" stroke-width="1.0"/>
<path d="M838.5,162 A28,11.5 0 0 1 894.5,162" stroke="#555" stroke-width="0.7" fill="none" />
<rect x="620.5" y="664.5" width="122" height="57" fill="none" stroke="#555" stroke-width="1"/>
<line x1="620.6" y1="678.5" x2="742.5" y2="678.5" stroke="#555" stroke-width="1" />
<line x1="620.6" y1="692.5" x2="742.5" y2="692.5" stroke="#555" stroke-width="1" />
<line x1="620.6" y1="706.5" x2="742.5" y2="706.5" stroke="#555" stroke-width="1" />
<line x1="642.5" y1="664.3" x2="642.5" y2="721.1" stroke="#555" stroke-width="1" />
<text x="632" y="675.5999999999999" font-size="11.5" fill="#000" text-anchor="middle" >1</text>
<text x="648" y="675.5999999999999" font-size="11.5" fill="#000" text-anchor="start" >PD Cathode</text>
<text x="632" y="689.6999999999999" font-size="11.5" fill="#000" text-anchor="middle" >2</text>
<text x="648" y="689.6999999999999" font-size="11.5" fill="#000" text-anchor="start" >PD Anode</text>
<text x="632" y="703.6999999999999" font-size="11.5" fill="#000" text-anchor="middle" >3</text>
<text x="648" y="703.6999999999999" font-size="11.5" fill="#000" text-anchor="start" >LD Anode, GND</text>
<text x="632" y="717.8" font-size="11.5" fill="#000" text-anchor="middle" >4</text>
<text x="648" y="717.8" font-size="11.5" fill="#000" text-anchor="start" >LD Cathode</text>
<!--3D-->
</svg>
</body></html>
